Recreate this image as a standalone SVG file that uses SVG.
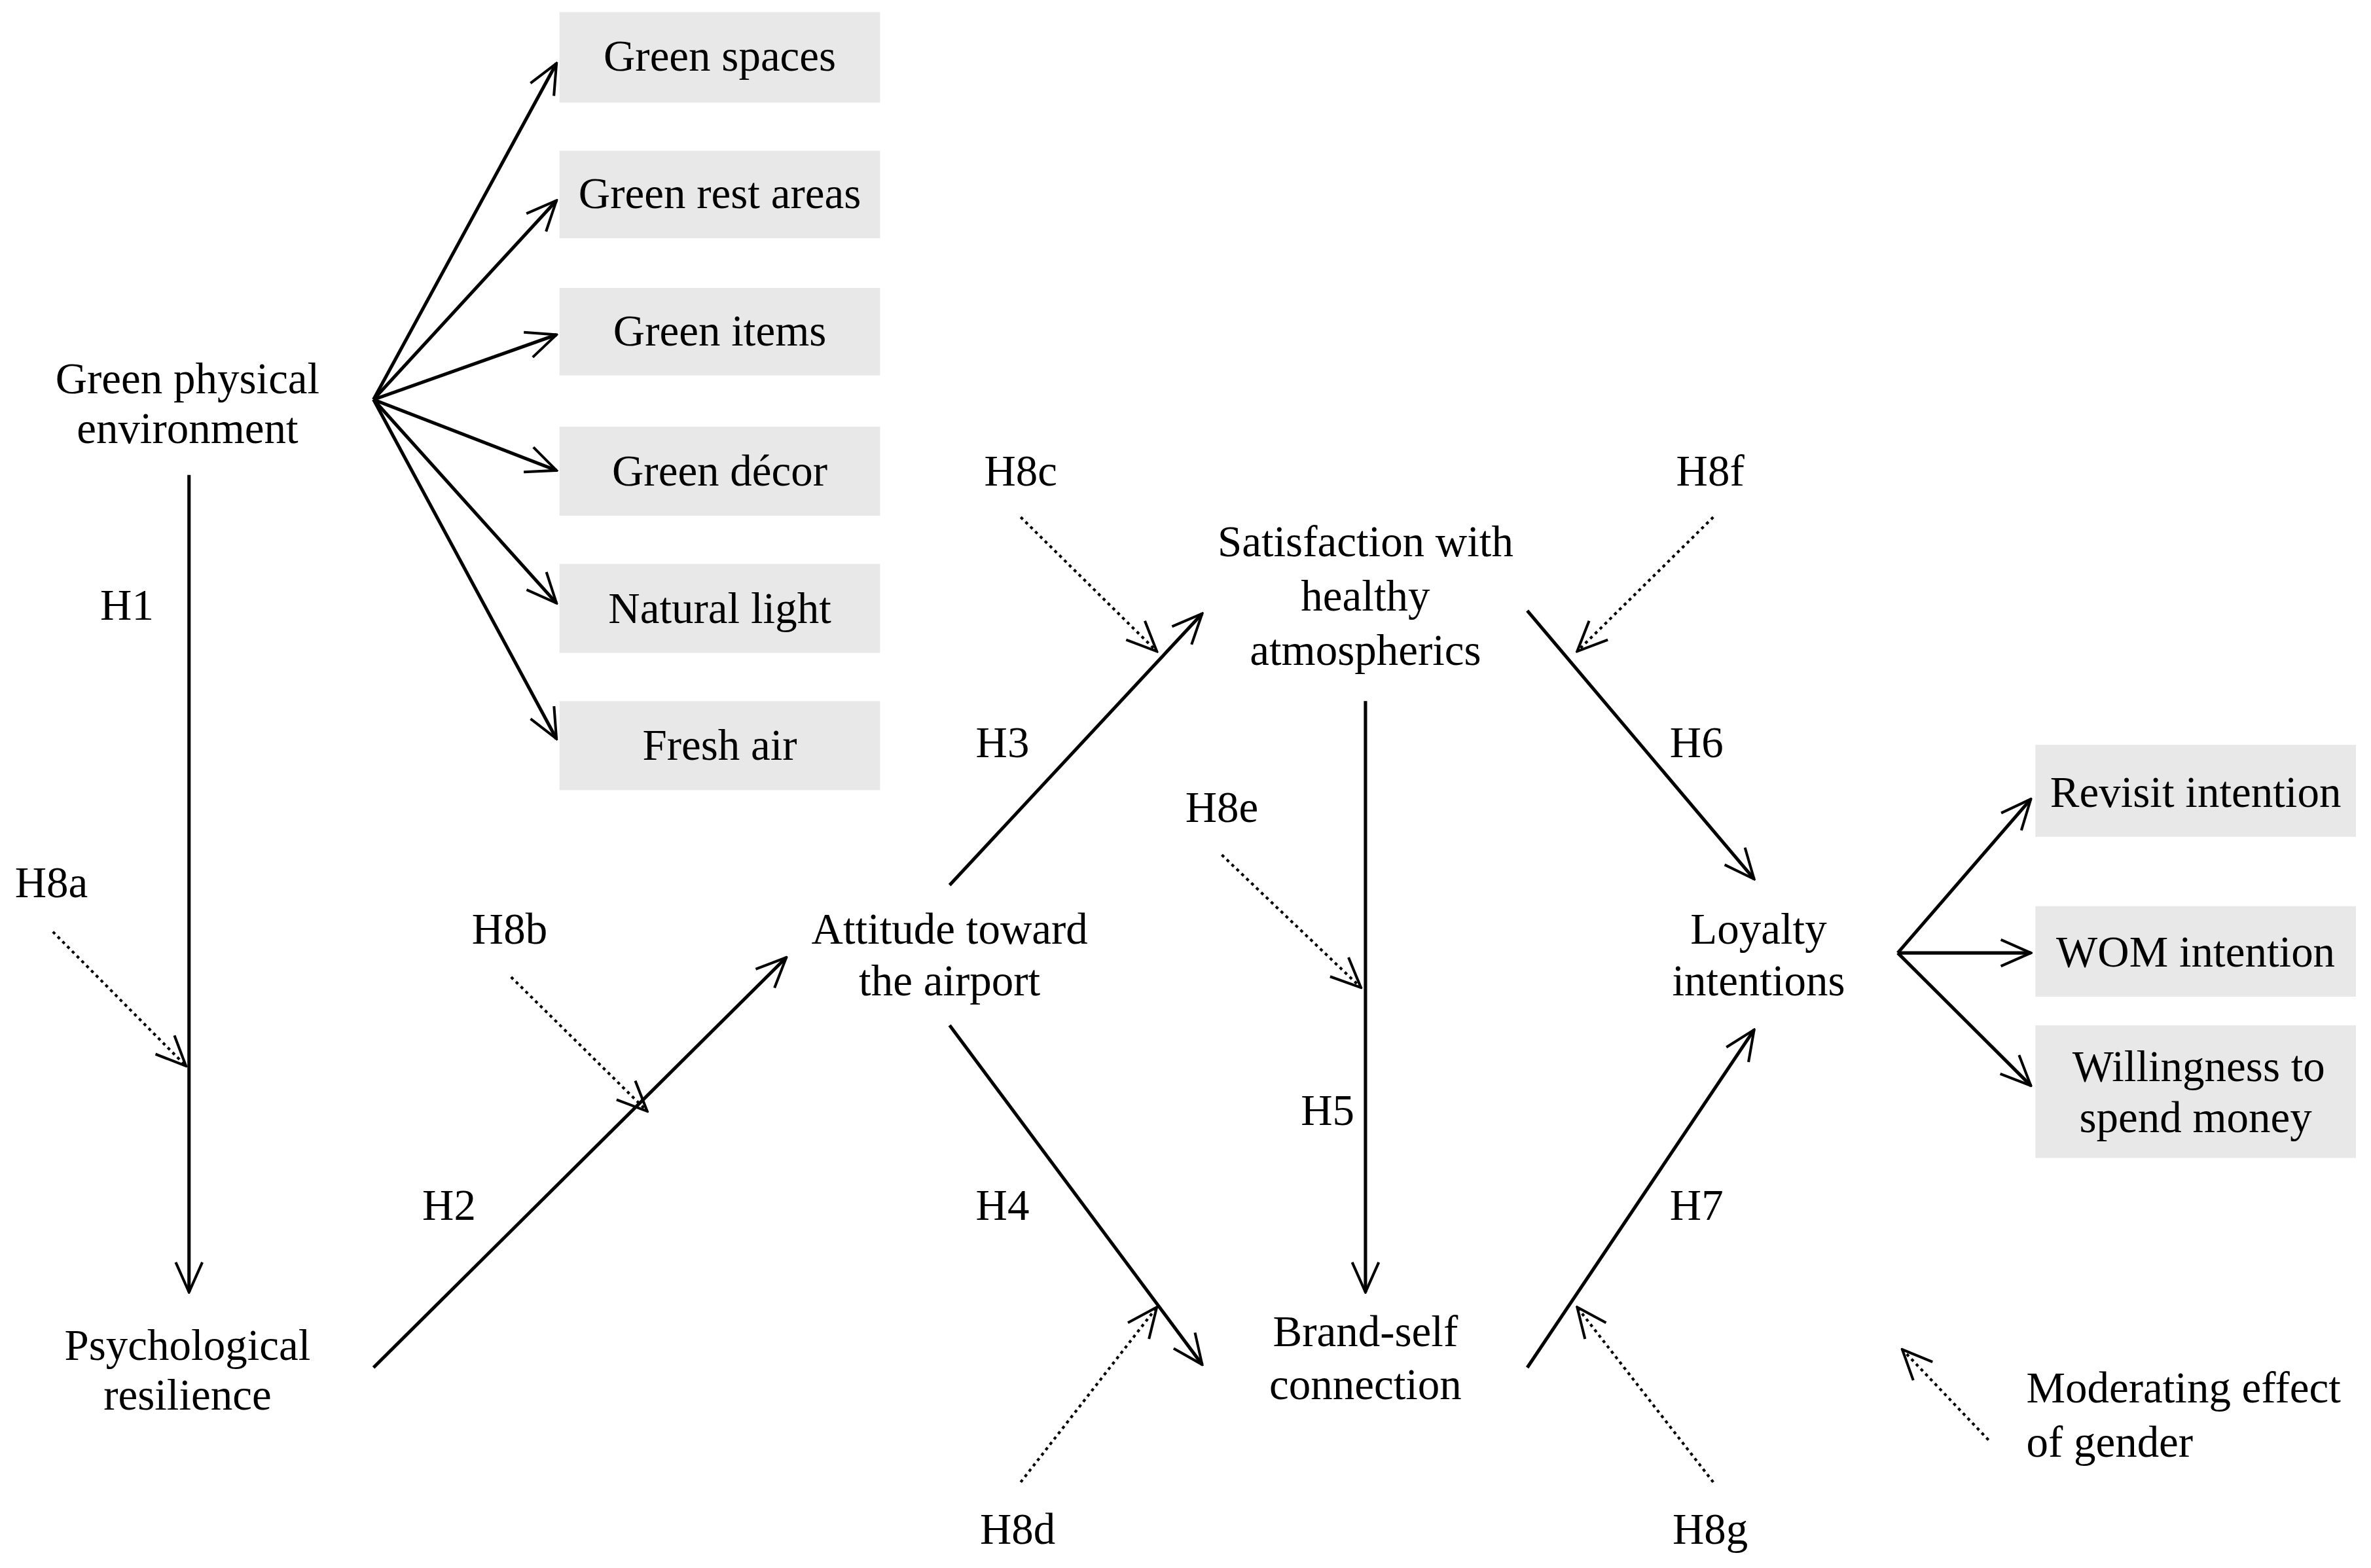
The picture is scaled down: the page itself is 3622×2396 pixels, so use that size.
<svg xmlns="http://www.w3.org/2000/svg" width="3622" height="2396" viewBox="0 0 3622 2396">
<style>
text{font-family:'Liberation Serif',serif;font-size:29px;fill:#000;text-anchor:middle}
.b{fill:#e8e8e8}
.a{stroke:#000;stroke-width:2.2;fill:none;marker-end:url(#ah)}
.d{stroke:#000;stroke-width:1.8;fill:none;stroke-dasharray:2,2.5;marker-end:url(#ah)}
.l{text-anchor:start}
</style>
<defs>
<marker id="ah" viewBox="0 0 20 20" refX="19" refY="10" markerWidth="22" markerHeight="22" markerUnits="userSpaceOnUse" orient="auto">
<path d="M1,2 L19,10 L1,18" fill="none" stroke="#000" stroke-width="1.6"/>
</marker>
</defs>
<rect width="3622" height="2396" fill="#fff"/>
<g transform="scale(2.31,2.304)" font-family="Liberation Serif, serif">
<g id="n-gpe"><text x="124" y="261">Green physical</text><text x="124" y="294">environment</text></g>
<g id="n-pr"><text x="124" y="902">Psychological</text><text x="124" y="935">resilience</text></g>
<g id="n-att"><text x="628" y="626">Attitude toward</text><text x="628" y="660">the airport</text></g>
<g id="n-sat"><text x="903" y="369">Satisfaction with</text><text x="903" y="405">healthy</text><text x="903" y="441">atmospherics</text></g>
<g id="n-bsc"><text x="903" y="893">Brand-self</text><text x="903" y="928">connection</text></g>
<g id="n-loy"><text x="1163" y="626">Loyalty</text><text x="1163" y="660">intentions</text></g>
<g id="n-gs"><rect class="b" x="370" y="8" width="212" height="60"/><text x="476" y="47">Green spaces</text></g>
<g id="n-gra"><rect class="b" x="370" y="100" width="212" height="58"/><text x="476" y="138">Green rest areas</text></g>
<g id="n-gi"><rect class="b" x="370" y="191" width="212" height="58"/><text x="476" y="229">Green items</text></g>
<g id="n-gd"><rect class="b" x="370" y="283" width="212" height="59"/><text x="476" y="322">Green décor</text></g>
<g id="n-nl"><rect class="b" x="370" y="374" width="212" height="59"/><text x="476" y="413">Natural light</text></g>
<g id="n-fa"><rect class="b" x="370" y="465" width="212" height="59"/><text x="476" y="504">Fresh air</text></g>
<g id="n-ri"><rect class="b" x="1346" y="494" width="212" height="61"/><text x="1452" y="535">Revisit intention</text></g>
<g id="n-wom"><rect class="b" x="1346" y="601" width="212" height="60"/><text x="1452" y="641">WOM intention</text></g>
<g id="n-wsm"><rect class="b" x="1346" y="680" width="212" height="88"/><text x="1454" y="717">Willingness to</text><text x="1452" y="751">spend money</text></g>
<g id="labels">
<text x="84" y="411">H1</text><text x="34" y="595">H8a</text><text x="337" y="626">H8b</text><text x="297" y="809">H2</text>
<text x="663" y="502">H3</text><text x="663" y="809">H4</text><text x="675" y="322">H8c</text><text x="808" y="545">H8e</text>
<text x="878" y="746">H5</text><text x="1131" y="322">H8f</text><text x="1122" y="502">H6</text><text x="1122" y="809">H7</text>
<text x="673" y="1024">H8d</text><text x="1131" y="1024">H8g</text>
<text class="l" x="1340" y="930">Moderating effect</text><text class="l" x="1340" y="966">of gender</text>
</g>
<g id="connectors">
<path class="a" d="M247,265 L368,42"/><path class="a" d="M247,265 L368,133"/><path class="a" d="M247,265 L368,222"/>
<path class="a" d="M247,265 L368,312"/><path class="a" d="M247,265 L368,400"/><path class="a" d="M247,265 L368,490"/>
<path class="a" d="M125,315 L125,857"/><path class="a" d="M247,907 L520,635"/><path class="a" d="M628,587 L795,407"/>
<path class="a" d="M628,680 L795,905"/><path class="a" d="M903,465 L903,857"/><path class="a" d="M1010,405 L1160,583"/>
<path class="a" d="M1010,907 L1160,683"/>
<path class="a" d="M1255,632 L1343,530"/><path class="a" d="M1255,632 L1343,632"/><path class="a" d="M1255,632 L1343,720"/>
<path class="d" d="M35,618 L123,707"/><path class="d" d="M338,648 L428,737"/><path class="d" d="M675,343 L765,432"/>
<path class="d" d="M808,567 L900,655"/><path class="d" d="M1133,343 L1043,432"/><path class="d" d="M675,983 L765,867"/>
<path class="d" d="M1133,983 L1043,867"/><path class="d" d="M1315,955 L1258,895"/>
</g>
</g>
</svg>
